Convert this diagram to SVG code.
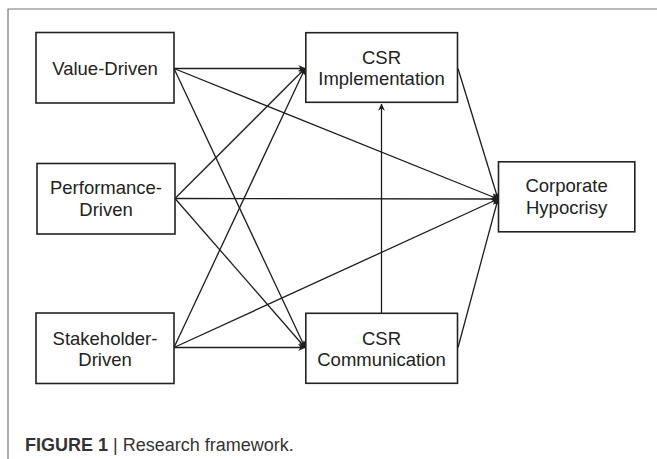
<svg xmlns="http://www.w3.org/2000/svg" width="657" height="459" viewBox="0 0 657 459">
  <style>
    .box { fill: #ffffff; stroke: #222222; stroke-width: 1.6; }
    .lbl { font-family: "Liberation Sans", Arial, sans-serif; font-size: 18.5px; fill: #222222; text-anchor: middle; }
    .edge { stroke: #1e1e1e; stroke-width: 1.3; fill: none; marker-end: url(#arr); }
    .cap { font-family: "Liberation Sans", Arial, sans-serif; font-size: 18px; fill: #333333; }
  </style>
  <defs>
    <marker id="arr" viewBox="0 0 10 10" refX="9.5" refY="5" markerWidth="7" markerHeight="7" markerUnits="userSpaceOnUse" orient="auto">
      <path d="M0,0 L10,5 L0,10 L3,5 Z" fill="#1e1e1e"/>
    </marker>
  </defs>
  <rect x="0" y="0" width="657" height="459" fill="#ffffff"/>
  <path d="M8,459 L8,9 L657,9" fill="none" stroke="#777777" stroke-width="1.2"/>

  <g id="connectors">
    <line class="edge" x1="174" y1="68.5" x2="305" y2="68.5"/>
    <line class="edge" x1="174" y1="68.5" x2="498" y2="199"/>
    <line class="edge" x1="174" y1="68.5" x2="305" y2="347.5"/>
    <line class="edge" x1="175" y1="198.5" x2="305" y2="68.5"/>
    <line class="edge" x1="175" y1="198.5" x2="498" y2="199"/>
    <line class="edge" x1="175" y1="198.5" x2="305" y2="347.5"/>
    <line class="edge" x1="174" y1="347.5" x2="305" y2="68.5"/>
    <line class="edge" x1="174" y1="347.5" x2="498" y2="199"/>
    <line class="edge" x1="170" y1="347.5" x2="305" y2="347.5"/>
    <line class="edge" x1="381.5" y1="313" x2="381.5" y2="104"/>
    <line class="edge" x1="458" y1="68.5" x2="498" y2="199"/>
    <line class="edge" x1="458" y1="347.5" x2="498" y2="199"/>
  </g>

  <g id="value-driven">
    <rect class="box" x="36" y="32.5" width="138" height="70.5"/>
    <text class="lbl" x="105" y="74.5">Value-Driven</text>
  </g>
  <g id="performance-driven">
    <rect class="box" x="37" y="163.5" width="138" height="70.5"/>
    <text class="lbl" x="106" y="194">Performance-</text>
    <text class="lbl" x="106" y="215.5">Driven</text>
  </g>
  <g id="stakeholder-driven">
    <rect class="box" x="36" y="313" width="138" height="70.5"/>
    <text class="lbl" x="105" y="345">Stakeholder-</text>
    <text class="lbl" x="105" y="366">Driven</text>
  </g>
  <g id="csr-implementation">
    <rect class="box" x="305.8" y="32.7" width="151.7" height="69.6"/>
    <text class="lbl" x="381.5" y="63.5">CSR</text>
    <text class="lbl" x="381.5" y="85">Implementation</text>
  </g>
  <g id="csr-communication">
    <rect class="box" x="305.8" y="313.3" width="151.7" height="70"/>
    <text class="lbl" x="381.5" y="345">CSR</text>
    <text class="lbl" x="381.5" y="366">Communication</text>
  </g>
  <g id="corporate-hypocrisy">
    <rect class="box" x="498.5" y="161.8" width="136.3" height="70"/>
    <text class="lbl" x="566.6" y="192">Corporate</text>
    <text class="lbl" x="566.6" y="213.5">Hypocrisy</text>
  </g>

  <text class="cap" x="25" y="451"><tspan font-weight="bold">FIGURE 1</tspan> | Research framework.</text>
</svg>
